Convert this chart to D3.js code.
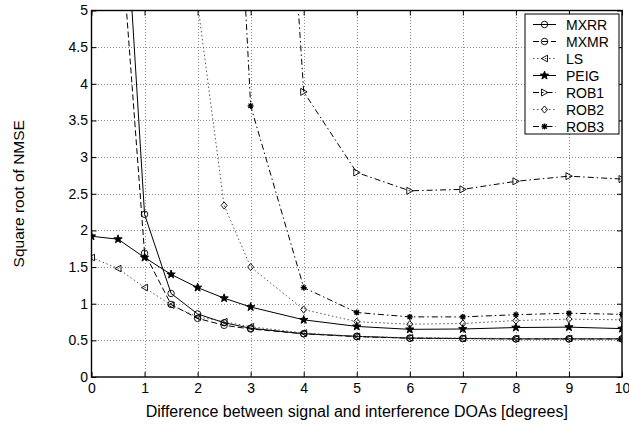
<!DOCTYPE html>
<html>
<head>
<meta charset="utf-8">
<script src="https://cdn.jsdelivr.net/npm/d3@7"></script>
<style>
  body { margin: 0; background: #fff; }
  svg text { font-family: "Liberation Sans", Arial, Helvetica, sans-serif; fill: #000; }
</style>
</head>
<body>
<svg id="chart" width="629" height="428"></svg>
<script>
// Angular separation between signal and interference (degrees)
const doaDiff = [0, 0.5, 1, 1.5, 2, 2.5, 3, 4, 5, 6, 7, 8, 9, 10];

// Square root of NMSE for each estimator (null = not computed)
const mxrr = [null, 8.1, 2.22, 1.14, 0.86, 0.74, 0.665, 0.59, 0.555, 0.53, 0.525, 0.52, 0.52, 0.52];
const mxmr = [null, 6.55, 1.69, 0.99, 0.80, 0.705, 0.655, 0.59, 0.55, 0.53, 0.525, 0.52, 0.52, 0.52];
const ls   = [1.63, 1.48, 1.22, 0.98, 0.82, 0.755, 0.686, 0.60, 0.555, 0.535, 0.53, 0.525, 0.525, 0.525];
const peig = [1.92, 1.88, 1.63, 1.40, 1.22, 1.075, 0.955, 0.78, 0.69, 0.65, 0.655, 0.675, 0.68, 0.66];
const rob1 = [null, null, null, null, null, null, 15.0, 3.89, 2.79, 2.54, 2.56, 2.67, 2.74, 2.70];
const rob2 = [null, null, null, null, 5.1, 2.34, 1.50, 0.92, 0.755, 0.72, 0.73, 0.77, 0.79, 0.78];
const rob3 = [null, null, null, null, null, 10.7, 3.70, 1.22, 0.88, 0.82, 0.82, 0.85, 0.87, 0.855];

const seriesNames = ["MXRR", "MXMR", "LS", "PEIG", "ROB1", "ROB2", "ROB3"];
const seriesValues = [mxrr, mxmr, ls, peig, rob1, rob2, rob3];

const xTicks = [0, 1, 2, 3, 4, 5, 6, 7, 8, 9, 10];
const yTicks = [0, 0.5, 1, 1.5, 2, 2.5, 3, 3.5, 4, 4.5, 5];

const xLabel = "Difference between signal and interference DOAs [degrees]";
const yLabel = "Square root of NMSE";

// Line styles and marker kinds per series
const styles = [
  { dash: null,            marker: "circle" },
  { dash: "6,3",           marker: "circle" },
  { dash: "1.5,2.5",       marker: "triLeft", stroke: "#555" },
  { dash: null,            marker: "star" },
  { dash: "6,3,1.5,3",     marker: "triRight" },
  { dash: "1.5,2.5",       marker: "diamond", stroke: "#555" },
  { dash: "6,3,1.5,3",     marker: "asterisk" }
];

const svg = d3.select("#chart");
const plotL = 91.5, plotR = 622, plotT = 10.5, plotB = 377;

const x = d3.scaleLinear().domain([0, 10]).range([plotL, plotR]);
const y = d3.scaleLinear().domain([0, 5]).range([plotB, plotT]);

svg.append("defs").append("clipPath").attr("id", "plotClip")
  .append("rect").attr("x", plotL).attr("y", plotT)
  .attr("width", plotR - plotL).attr("height", plotB - plotT);

// Grid
const grid = svg.append("g").attr("stroke", "#8a8a8a").attr("stroke-width", 1)
  .attr("stroke-dasharray", "1,2").attr("shape-rendering", "crispEdges");
xTicks.slice(1, -1).forEach(t => {
  grid.append("line").attr("x1", Math.round(x(t)) + 0.5).attr("x2", Math.round(x(t)) + 0.5)
    .attr("y1", plotT).attr("y2", plotB);
});
yTicks.slice(1, -1).forEach(t => {
  grid.append("line").attr("y1", Math.round(y(t)) + 0.5).attr("y2", Math.round(y(t)) + 0.5)
    .attr("x1", plotL).attr("x2", plotR);
});

// Axes with inward ticks on all four sides
const tickLen = 5;
const axB = svg.append("g").attr("transform", `translate(0,${plotB})`)
  .call(d3.axisBottom(x).tickValues(xTicks).tickSizeInner(-tickLen).tickSizeOuter(0).tickPadding(6)
    .tickFormat(d3.format("d")));
const axT = svg.append("g").attr("transform", `translate(0,${plotT})`)
  .call(d3.axisTop(x).tickValues(xTicks).tickSizeInner(-tickLen).tickSizeOuter(0).tickFormat(""));
const axL = svg.append("g").attr("transform", `translate(${plotL},0)`)
  .call(d3.axisLeft(y).tickValues(yTicks).tickSizeInner(-tickLen).tickSizeOuter(0).tickPadding(3.5)
    .tickFormat(d => String(d)));
const axR = svg.append("g").attr("transform", `translate(${plotR},0)`)
  .call(d3.axisRight(y).tickValues(yTicks).tickSizeInner(-tickLen).tickSizeOuter(0).tickFormat(""));

[axB, axT, axL, axR].forEach(a => {
  a.select(".domain").remove();
  a.selectAll("line").attr("stroke", "#000").attr("stroke-width", 1);
  a.selectAll("text").attr("font-size", 14).attr("font-family", "Liberation Sans, Arial, sans-serif");
});

// Data lines
const plot = svg.append("g").attr("clip-path", "url(#plotClip)");

function markerPath(kind) {
  switch (kind) {
    case "circle": return d3.symbol(d3.symbolCircle, 33)();
    case "triLeft": return "M-3.2,0L3,-3.3L3,3.3Z";
    case "triRight": return "M3.4,0L-3,-3.5L-3,3.5Z";
    case "diamond": return "M0,-3.6L3,0L0,3.6L-3,0Z";
    case "star": {
      let p = "";
      for (let i = 0; i < 10; i++) {
        const r = i % 2 === 0 ? 4.4 : 1.8;
        const a = -Math.PI / 2 + i * Math.PI / 5;
        p += (i ? "L" : "M") + (r * Math.cos(a)).toFixed(2) + "," + (r * Math.sin(a)).toFixed(2);
      }
      return p + "Z";
    }
    case "asterisk": return "M-3,0L3,0M0,-3L0,3M-2.2,-2.2L2.2,2.2M-2.2,2.2L2.2,-2.2";
  }
}

function drawMarker(g, kind, cx, cy, stroke) {
  return g.append("path").attr("d", markerPath(kind))
    .attr("transform", `translate(${cx},${cy})`)
    .attr("stroke", stroke).attr("stroke-width", kind === "asterisk" ? 1.3 : 0.9)
    .attr("fill", kind === "star" ? "#000" : "none");
}

const lineGen = d3.line()
  .defined(d => d[1] !== null)
  .x(d => x(d[0])).y(d => y(d[1]));

seriesValues.forEach((vals, i) => {
  const st = styles[i];
  const pts = doaDiff.map((dx, k) => [dx, vals[k]]);
  plot.append("path").datum(pts).attr("d", lineGen)
    .attr("fill", "none").attr("stroke", st.stroke || "#000").attr("stroke-width", 1)
    .attr("stroke-dasharray", st.dash);
  pts.filter(p => p[1] !== null && p[1] <= 5.05).forEach(p => {
    drawMarker(plot, st.marker, x(p[0]), y(p[1]), "#000");
  });
});

// Axes box
svg.append("rect").attr("x", plotL).attr("y", plotT)
  .attr("width", plotR - plotL).attr("height", plotB - plotT)
  .attr("fill", "none").attr("stroke", "#000").attr("stroke-width", 1.4);

// Legend
const lg = svg.append("g");
const lgX = 525, lgY = 14, lgW = 94, lgH = 120;
lg.append("rect").attr("x", lgX).attr("y", lgY).attr("width", lgW).attr("height", lgH)
  .attr("fill", "#fff").attr("stroke", "#000").attr("stroke-width", 1);
seriesNames.forEach((name, i) => {
  const st = styles[i];
  const cy = 24.5 + i * 17;
  lg.append("line").attr("x1", 533).attr("x2", 556).attr("y1", cy).attr("y2", cy)
    .attr("stroke", st.stroke || "#000").attr("stroke-width", 1)
    .attr("stroke-dasharray", st.dash);
  drawMarker(lg, st.marker, 544.5, cy, "#000");
  lg.append("text").attr("x", 566).attr("y", cy).attr("dy", "0.36em")
    .attr("font-size", 14).text(name);
});

// Axis titles
svg.append("text").attr("x", (plotL + plotR) / 2).attr("y", 411.5).attr("dy", "0.36em")
  .attr("text-anchor", "middle").attr("font-size", 16).text(xLabel);
svg.append("text").attr("transform", `translate(18,${(plotT + plotB) / 2}) rotate(-90)`)
  .attr("dy", "0.36em").attr("text-anchor", "middle").attr("font-size", 15.5).text(yLabel);
</script>
</body>
</html>
